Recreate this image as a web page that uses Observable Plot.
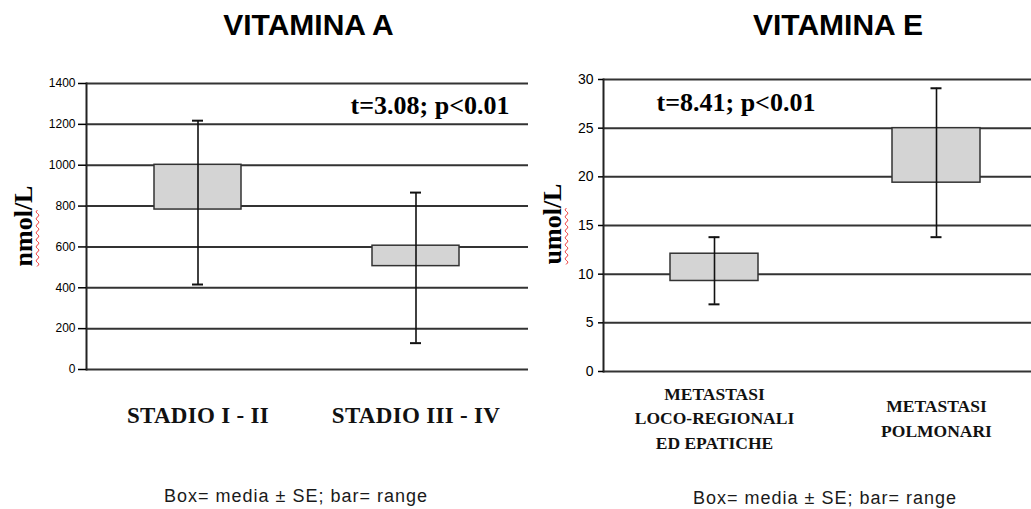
<!DOCTYPE html>
<html>
<head>
<meta charset="utf-8">
<script src="https://cdn.jsdelivr.net/npm/d3@7"></script>
<script src="https://cdn.jsdelivr.net/npm/@observablehq/plot@0.6"></script>
<style>
html, body { margin: 0; padding: 0; background: #fff; overflow: hidden; }
#wrap { position: relative; width: 1031px; height: 509px; overflow: hidden; background: #fff; }
.abs { position: absolute; }
.title { font-family: "Liberation Sans", Arial, sans-serif; font-weight: bold; font-size: 30px; line-height: 30px; white-space: nowrap; transform: translateX(-50%); color: #000; }
.foot { font-family: "Liberation Sans", Arial, sans-serif; font-size: 18px; line-height: 18px; letter-spacing: 1px; white-space: nowrap; transform: translateX(-50%); color: #1a1a1a; }
.ylab { font-family: "Liberation Serif", "Times New Roman", serif; font-weight: bold; font-size: 26px; line-height: 26px; white-space: nowrap; transform: translate(-50%, -50%) rotate(-90deg); color: #000; }
.wavy { text-decoration: underline wavy #e33; text-decoration-thickness: 1px; text-underline-offset: 3px; }
</style>
</head>
<body>
<div id="wrap"></div>
<script>
// ---- Data: Vitamina A ----
const categoriesA = ["STADIO I - II", "STADIO III - IV"];
const seLowA = [783, 506];
const seHighA = [1002, 606];
const rangeMinA = [416, 129];
const rangeMaxA = [1218, 866];
const yTicksA = [0, 200, 400, 600, 800, 1000, 1200, 1400];
const annotationA = "t=3.08; p<0.01";

// ---- Data: Vitamina E ----
const categoriesE = ["METASTASI\nLOCO-REGIONALI\nED EPATICHE", "METASTASI\nPOLMONARI"];
const seLowE = [9.3, 19.4];
const seHighE = [12.1, 25.0];
const rangeMinE = [6.9, 13.8];
const rangeMaxE = [13.8, 29.1];
const yTicksE = [0, 5, 10, 15, 20, 25, 30];
const annotationE = "t=8.41; p<0.01";

const titles = ["VITAMINA A", "VITAMINA E"];
const unitsA = ["nmol", "/L"];
const unitsE = ["umol", "/L"];
const footnote = "Box= media \u00b1 SE; bar= range";

const wrap = document.getElementById("wrap");

function panel(o) {
  const rows = o.cats.map((c, i) => ({cat: c, lo: o.lo[i], hi: o.hi[i], mn: o.mn[i], mx: o.mx[i]}));
  const serif = "'Liberation Serif', 'Times New Roman', serif";
  return Plot.plot({
    width: o.width,
    height: o.height,
    marginLeft: o.marginLeft,
    marginRight: 2,
    marginTop: o.marginTop,
    marginBottom: o.marginBottom,
    style: {background: "transparent", overflow: "visible", maxWidth: "none", color: "#000", fontFamily: "'Liberation Sans', Arial, sans-serif"},
    x: {type: "band", domain: o.cats, paddingInner: o.paddingInner, paddingOuter: o.paddingOuter, align: 0.5, axis: null},
    y: {domain: [0, o.ticks[o.ticks.length - 1]], axis: null},
    marks: [
      Plot.gridY(o.ticks, {stroke: "#333", strokeOpacity: 1, strokeWidth: 2}),
      Plot.frame({anchor: "left", stroke: "#222", strokeWidth: 2}),
      Plot.barY(rows, {x: "cat", y1: "lo", y2: "hi", fill: "#d4d4d4", stroke: "#333", strokeWidth: 1.5}),
      Plot.ruleX(rows, {x: "cat", y1: "mn", y2: "mx", stroke: "#111", strokeWidth: 1.6}),
      Plot.tickY(rows, {x: "cat", y: "mx", insetLeft: o.capInset, insetRight: o.capInset, stroke: "#111", strokeWidth: 2}),
      Plot.tickY(rows, {x: "cat", y: "mn", insetLeft: o.capInset, insetRight: o.capInset, stroke: "#111", strokeWidth: 2}),
      Plot.axisY(o.ticks, {anchor: "left", label: null, tickSize: o.tickSize, tickPadding: o.tickPadding, fontSize: o.tickFont, strokeWidth: 1.5, tickFormat: d => String(d)}),
      Plot.text(rows, {x: "cat", text: "cat", frameAnchor: "bottom", dy: o.labelDy, lineAnchor: "middle", lineHeight: o.lineHeight, fontSize: o.labelFont, fontWeight: "bold", fontFamily: serif, fill: "#111"}),
      Plot.text([o.annotation], {text: d => d, frameAnchor: o.annAnchor, dx: o.annDx, dy: o.annDy, fontSize: 26, fontWeight: "bold", fontFamily: serif, fill: "#000"})
    ]
  });
}

function place(node, left, top, w) {
  const d = document.createElement("div");
  d.className = "abs";
  d.style.left = left + "px";
  d.style.top = top + "px";
  if (w) d.style.width = w + "px";
  d.appendChild(node);
  wrap.appendChild(d);
  return d;
}

const plotA = panel({
  cats: categoriesA, lo: seLowA, hi: seHighA, mn: rangeMinA, mx: rangeMaxA, ticks: yTicksA,
  width: 530, height: 460, marginLeft: 86, marginTop: 83, marginBottom: 91,
  paddingInner: 0.6, paddingOuter: 0.31, capInset: 38,
  tickSize: 8, tickPadding: 3, tickFont: 12,
  labelDy: 43, labelFont: 23, lineHeight: 1.4,
  annotation: annotationA, annAnchor: "top-right", annDx: -19, annDy: 12
});
d3.select(plotA).selectAll("text")
  .filter(function() { return categoriesA.includes(this.textContent); })
  .style("letter-spacing", "0.3px");
place(plotA, 0, 0, 530);

const plotE = panel({
  cats: categoriesE, lo: seLowE, hi: seHighE, mn: rangeMinE, mx: rangeMaxE, ticks: yTicksE,
  width: 528, height: 460, marginLeft: 83, marginTop: 79, marginBottom: 89,
  paddingInner: 0.605, paddingOuter: 0.296, capInset: 38.5,
  tickSize: 5, tickPadding: 5, tickFont: 14,
  labelDy: 45, labelFont: 17.5, lineHeight: 1.42,
  annotation: annotationE, annAnchor: "top-left", annDx: 53, annDy: 13
});
place(plotE, 520, 0, 528);

// titles
[[titles[0], 308.5], [titles[1], 838]].forEach(([t, cx]) => {
  const d = document.createElement("div");
  d.className = "abs title";
  d.style.left = cx + "px";
  d.style.top = "9.5px";
  d.textContent = t;
  wrap.appendChild(d);
});

// y labels
[[unitsA, 24, 226], [unitsE, 553, 224]].forEach(([u, cx, cy]) => {
  const d = document.createElement("div");
  d.className = "abs ylab";
  d.style.left = cx + "px";
  d.style.top = cy + "px";
  const s = document.createElement("span");
  s.className = "wavy";
  s.textContent = u[0];
  d.appendChild(s);
  d.appendChild(document.createTextNode(u[1]));
  wrap.appendChild(d);
});

// footnotes
[[296, 487], [825, 489]].forEach(([cx, top]) => {
  const d = document.createElement("div");
  d.className = "abs foot";
  d.style.left = cx + "px";
  d.style.top = top + "px";
  d.textContent = footnote;
  wrap.appendChild(d);
});
</script>
</body>
</html>
